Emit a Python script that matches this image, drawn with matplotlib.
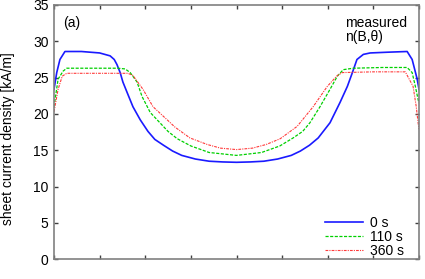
import matplotlib
matplotlib.use("Agg")
import matplotlib.pyplot as plt

plt.rcParams['font.family'] = ['Liberation Sans', 'DejaVu Sans']

# Data
x_0s = [0.00, 0.06, 0.13, 0.24, 0.60, 1.00, 1.23, 1.32, 1.38, 1.45, 1.51, 1.60, 1.73, 1.89,
        2.06, 2.21, 2.40, 2.60, 2.80, 3.10, 3.40, 3.70, 4.00, 4.30, 4.60, 4.90, 5.20, 5.40,
        5.60, 5.79, 6.05, 6.27, 6.43, 6.54, 6.64, 6.78, 6.93, 7.30, 7.74, 7.85, 7.96, 8.00]
y_0s = [23.4, 25.7, 27.5, 28.6, 28.6, 28.4, 28.0, 27.5, 26.8, 25.7, 24.4, 23.0, 21.0, 19.2,
        17.6, 16.5, 15.7, 14.9, 14.3, 13.8, 13.5, 13.4, 13.35, 13.4, 13.5, 13.8, 14.3, 14.9,
        15.7, 16.7, 18.8, 21.6, 23.8, 25.7, 27.5, 28.2, 28.4, 28.5, 28.6, 27.5, 24.8, 23.4]

x_110s = [0.00, 0.09, 0.20, 0.28, 0.80, 1.40, 1.56, 1.67, 1.82, 1.93, 2.11, 2.32, 2.50, 2.70,
          3.00, 3.40, 4.00, 4.55, 4.95, 5.24, 5.45, 5.61, 5.83, 6.05, 6.21, 6.34, 6.56, 7.20,
          7.74, 7.85, 7.92, 7.98, 8.00]
y_110s = [21.0, 24.8, 25.9, 26.3, 26.3, 26.3, 26.2, 25.7, 24.4, 22.4, 20.2, 18.8, 17.6, 16.6,
          15.6, 14.7, 14.3, 14.7, 15.6, 16.7, 17.6, 18.8, 21.0, 23.4, 25.2, 26.1, 26.3, 26.4,
          26.4, 25.7, 23.8, 22.0, 21.5]

x_360s = [0.00, 0.09, 0.18, 0.28, 0.80, 1.50, 1.62, 1.73, 1.95, 2.17, 2.48, 2.65, 2.98, 3.36,
          3.65, 4.00, 4.35, 4.65, 4.96, 5.33, 5.68, 5.99, 6.21, 6.32, 7.00, 7.70, 7.87, 7.94,
          7.98, 8.00]
y_360s = [20.3, 23.4, 25.2, 25.6, 25.6, 25.6, 25.6, 25.3, 23.4, 21.0, 19.2, 18.2, 16.7, 15.8,
          15.3, 15.1, 15.3, 15.8, 16.6, 18.3, 21.0, 23.8, 25.3, 25.7, 25.8, 25.8, 23.8, 21.0,
          18.8, 17.9]

labels = ['0 s', '110 s', '360 s']
y_ticks = [0, 5, 10, 15, 20, 25, 30, 35]
x_ticks = [0, 1, 2, 3, 4, 5, 6, 7, 8]

fig = plt.figure(figsize=(4.25, 2.79), dpi=100)
ax = fig.add_axes([54/425, 1 - 259.3/279, (419 - 54)/425, (259.3 - 5)/279])

ax.plot(x_0s, y_0s, color='#1a1aff', lw=1.2, ls='-', label=labels[0])
ax.plot(x_110s, y_110s, color='#00d000', lw=0.9, ls=(0, (2.5, 1.2)), label=labels[1])
ax.plot(x_360s, y_360s, color='#ff3a3a', lw=0.8, ls=(0, (2.5, 1, 1, 1)), label=labels[2])

ax.set_xlim(0, 8)
ax.set_ylim(0, 35)
ax.set_yticks(y_ticks)
ax.set_xticks(x_ticks)
ax.set_xticklabels([])

for s in ax.spines.values():
    s.set_color('#808080')
    s.set_linewidth(1.2)

ax.tick_params(axis='both', direction='in', length=3, width=1.0, color='#404040',
               labelsize=10, top=True, right=True, pad=4)

fig.text(8.5/425, 1 - 139/279, 'sheet current density [kA/m]', fontsize=10,
         rotation=90, ha='center', va='center')

ax.text(0.025, 0.93, '(a)', transform=ax.transAxes, fontsize=10, va='center', ha='left')
ax.text(0.797, 0.93, 'measured', transform=ax.transAxes, fontsize=10, va='center', ha='left')
ax.text(0.797, 0.875, 'n(B,\u03b8)', transform=ax.transAxes, fontsize=10, va='center', ha='left')

leg = ax.legend(loc='lower right', frameon=False, fontsize=10, handlelength=2.7,
                handletextpad=0.55, labelspacing=0.0, borderaxespad=0.0,
                bbox_to_anchor=(0.975, -0.015))

fig.savefig('out.png', dpi=100)
